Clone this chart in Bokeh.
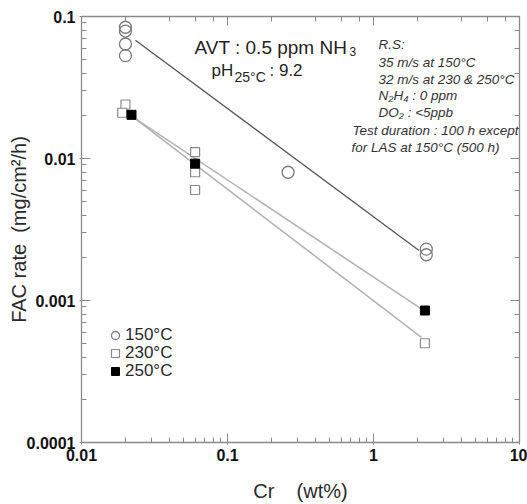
from bokeh.plotting import figure
from bokeh.models import Label, Legend, LegendItem, LogAxis, LogTicker, CustomJSTickFormatter
from bokeh.embed import file_html
from bokeh.resources import INLINE

# ---------------- data ----------------
# 150 C (open circles)
c150_x = [0.02, 0.02, 0.02, 0.02, 0.26, 2.3, 2.3]
c150_y = [0.084, 0.079, 0.064, 0.053, 0.008, 0.0023, 0.0021]
# 230 C (open squares)
s230_x = [0.02, 0.019, 0.06, 0.06, 0.06, 2.25]
s230_y = [0.024, 0.021, 0.0111, 0.0080, 0.0060, 0.0005]
# 250 C (filled squares)
f250_x = [0.022, 0.06, 2.25]
f250_y = [0.0203, 0.0092, 0.00085]
# fitted trend lines
fit150_x = [0.0234, 2.05]
fit150_y = [0.068, 0.00225]
fit250_x = [0.0227, 2.1]
fit250_y = [0.0195, 0.00088]
fit230_x = [0.0227, 2.13]
fit230_y = [0.0195, 0.00055]

x_lim = (0.01, 10)
y_lim = (0.0001, 0.1)

# frame geometry on the page (for placing annotations)
FL, FR, FT, FB = 81, 519, 16, 442
def px2x(px):
    return 10 ** (-2 + 3 * (px - FL) / (FR - FL))
def py2y(py):
    return 10 ** (-1 - 3 * (py - FT) / (FB - FT))

FONT = "Liberation Sans"
AX = "#8a8a8a"
NB = "\u00a0"

p = figure(width=527, height=504, x_axis_type="log", y_axis_type="log",
           x_range=x_lim, y_range=y_lim, output_backend="svg",
           toolbar_location=None, min_border_left=81, min_border_right=8,
           min_border_top=16, min_border_bottom=62)
p.grid.visible = False
p.outline_line_color = None
p.background_fill_color = "white"
p.border_fill_color = "white"

fmt = CustomJSTickFormatter(code="return Number(tick.toPrecision(6)).toString();")
blank = CustomJSTickFormatter(code="return '';")

def style_axis(ax, labels=True):
    ax.axis_line_color = AX
    ax.axis_line_width = 1.3
    ax.major_tick_line_color = AX
    ax.minor_tick_line_color = AX
    ax.major_tick_in = 9
    ax.major_tick_out = 2 if labels else 0
    ax.minor_tick_in = 5
    ax.minor_tick_out = 0
    if labels:
        ax.formatter = fmt
        ax.major_label_text_font = FONT
        ax.major_label_text_font_style = "bold"
        ax.major_label_text_font_size = "16px"
        ax.major_label_text_color = "#111111"
        ax.major_label_standoff = 4
    else:
        ax.formatter = blank
        ax.major_label_text_font_size = "1px"
        ax.major_label_standoff = 0

for ax in p.xaxis + p.yaxis:
    style_axis(ax)

p.xaxis.axis_label = "Cr" + NB * 3 + " (wt%)"
p.yaxis.axis_label = "FAC rate" + NB * 2 + "(mg/cm²/h)"
for ax in p.xaxis + p.yaxis:
    ax.axis_label_text_font = FONT
    ax.axis_label_text_font_style = "normal"
    ax.axis_label_text_color = "#2a2a2a"
p.xaxis.axis_label_text_font_size = "20px"
p.yaxis.axis_label_text_font_size = "20px"
p.xaxis.axis_label_standoff = 16
p.yaxis.axis_label_standoff = -6

top = LogAxis(ticker=LogTicker())
style_axis(top, labels=False)
p.add_layout(top, "above")
right = LogAxis(ticker=LogTicker())
style_axis(right, labels=False)
p.add_layout(right, "right")

# fit lines
p.line(fit150_x, fit150_y, line_color="#5a5a5a", line_width=1.4)
p.line(fit250_x, fit250_y, line_color="#b4b4b4", line_width=1.6)
p.line(fit230_x, fit230_y, line_color="#b4b4b4", line_width=1.6)

# markers
r150 = p.scatter(c150_x, c150_y, marker="circle", size=12, fill_color=None,
                 line_color="#7a7a7a", line_width=1.3)
r230 = p.scatter(s230_x, s230_y, marker="square", size=9, fill_color="white",
                 line_color="#8a8a8a", line_width=1.2)
r250 = p.scatter(f250_x, f250_y, marker="square", size=9, fill_color="black",
                 line_color="black", line_width=1)

# legends (one per row)
for lab_, rend, vy in [("150°C", r150, 97), ("230°C", r230, 79), ("250°C", r250, 61)]:
    lg = Legend(items=[LegendItem(label=lab_, renderers=[rend])], location=(24, vy),
                padding=0, margin=0, spacing=0, glyph_width=20, glyph_height=20,
                label_height=18, label_standoff=0, border_line_color=None,
                background_fill_alpha=0, label_text_font=FONT,
                label_text_font_size="17px", label_text_color="#2a2a2a")
    p.add_layout(lg)

# annotations
def lab(text, px, py, size, style="normal", color="#1f1f1f"):
    p.add_layout(Label(x=px2x(px), y=py2y(py), text=text, text_font=FONT,
                       text_font_size=size, text_font_style=style,
                       text_color=color, text_align="left",
                       text_baseline="alphabetic"))

lab("AVT : 0.5 ppm NH", 194, 47, "19px")
lab("3", 349, 51, "12px")
lab("pH", 211, 70, "17px")
lab("25°C", 234, 76.5, "14px")
lab(": 9.2", 269, 70, "17px")

rs = [("R.S:", 378, 44), ("35 m/s at 150°C", 378, 61.5), ("32 m/s at 230 & 250°C", 378, 78.5),
      ("N₂H₄ : 0 ppm", 378, 95), ("DO₂ : <5ppb", 378, 112),
      ("Test duration : 100 h except", 352, 130), ("for LAS at 150°C (500 h)", 351, 146.5)]
for t, x0, y0 in rs:
    lab(t, x0, y0, "13.5px", style="italic", color="#333333")

open("out.html", "w").write(file_html(p, INLINE))
